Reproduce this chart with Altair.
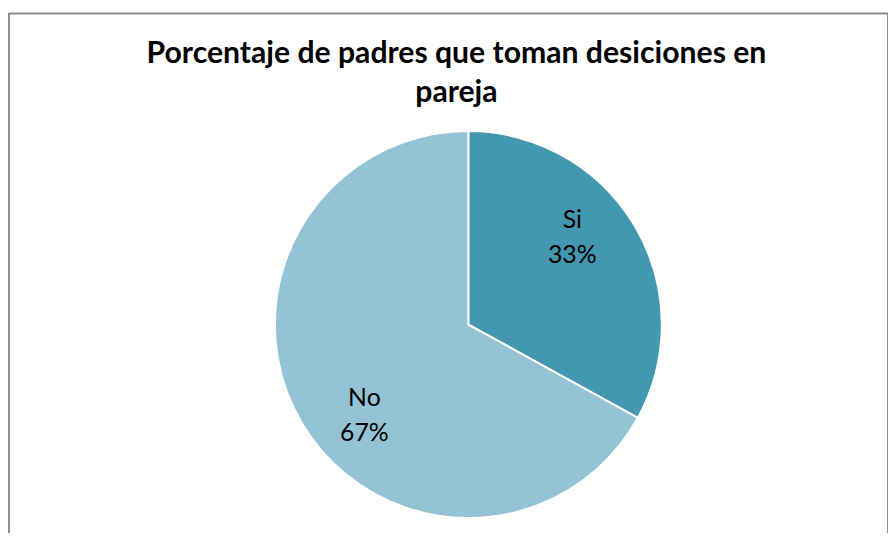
import altair as alt
import pandas as pd

categories = ["Si", "No"]
values = [33, 67]
colors = ["#4397B0", "#93C3D4"]
title_lines = ["Porcentaje de padres que toman desiciones en", "pareja"]

df = pd.DataFrame({"cat": categories, "val": values, "order": [0, 1]})
df["label"] = [f"{c}\n{v}%" for c, v in zip(categories, values)]

W, H = 887, 527
cx, cy = 464, 317

base = alt.Chart(df).encode(
    theta=alt.Theta("val:Q", stack=True),
    order=alt.Order("order:Q"),
)

pie = base.mark_arc(outerRadius=195, stroke="white", strokeWidth=2).encode(
    color=alt.Color("cat:N", scale=alt.Scale(domain=categories, range=colors), legend=None),
    x=alt.value(cx), y=alt.value(cy),
)

labels = base.mark_text(
    radius=138, thetaOffset=-0.1745, fontSize=25, font="Lato", lineBreak="\n",
    lineHeight=36, color="black", baseline="middle", dy=-16,
).encode(text="label:N", x=alt.value(cx), y=alt.value(cy))

title_df = pd.DataFrame({"t": title_lines, "i": [0, 1]})
title = alt.Chart(title_df).mark_text(
    font="Lato", fontSize=30.4, fontWeight="bold", color="black", baseline="middle"
).encode(
    text="t:N",
    x=alt.value(452),
    y=alt.Y("i:Q", axis=None, scale=alt.Scale(domain=[0, 1], range=[44, 84])),
)

border_top = alt.Chart(title_df).mark_rule(color="#868686", strokeWidth=1.5).encode(
    x=alt.value(1), x2=alt.value(887), y=alt.value(3.5))
border_left = alt.Chart(title_df).mark_rule(color="#868686", strokeWidth=1.5).encode(
    x=alt.value(1), y=alt.value(3), y2=alt.value(H))
border_right = alt.Chart(title_df).mark_rule(color="#868686", strokeWidth=1.5).encode(
    x=alt.value(887), y=alt.value(3), y2=alt.value(H))

chart = alt.layer(pie, labels, title, border_top, border_left, border_right).properties(
    width=W, height=H, padding=0, autosize=alt.AutoSizeParams(type="none"),
).configure_view(stroke=None)

chart.save("out.html", embed_options={"renderer": "svg", "actions": False})
